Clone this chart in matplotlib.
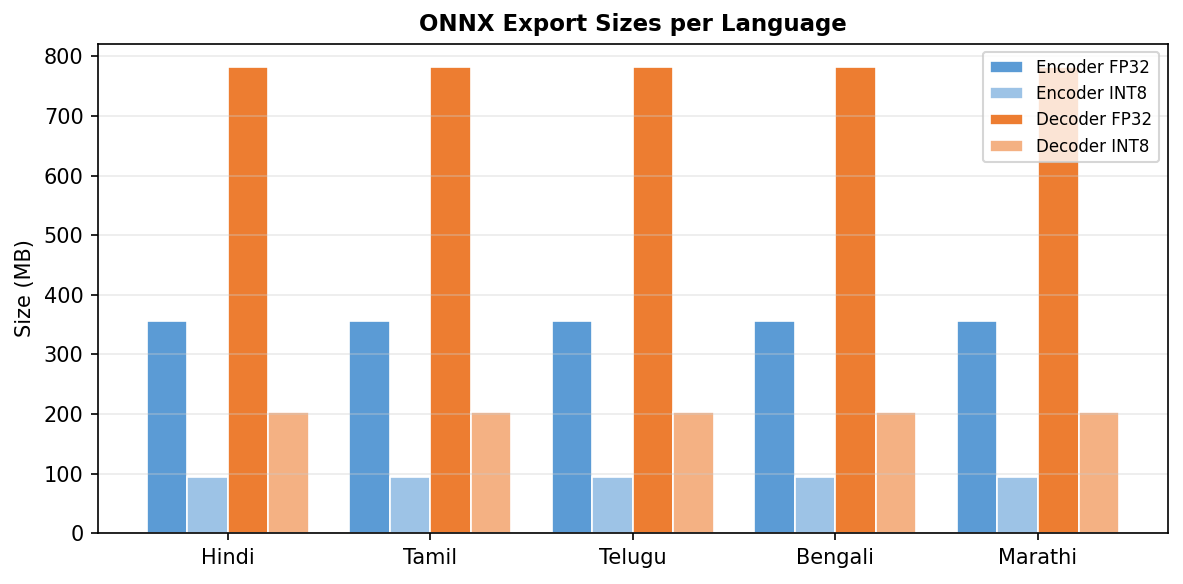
import numpy as np
import matplotlib
matplotlib.use("Agg")
import matplotlib.pyplot as plt

languages = ["Hindi", "Tamil", "Telugu", "Bengali", "Marathi"]
encoder_fp32 = [356, 356, 356, 356, 356]
encoder_int8 = [95, 95, 95, 95, 95]
decoder_fp32 = [782, 782, 782, 782, 782]
decoder_int8 = [203, 203, 203, 203, 203]

series = [
    ("Encoder FP32", encoder_fp32, "#5B9BD5"),
    ("Encoder INT8", encoder_int8, "#9DC3E6"),
    ("Decoder FP32", decoder_fp32, "#ED7D31"),
    ("Decoder INT8", decoder_int8, "#F4B183"),
]

x = np.arange(len(languages))
width = 0.2

fig, ax = plt.subplots(figsize=(1183 / 150, 584 / 150), dpi=150)
fig.subplots_adjust(left=0.083, right=0.987, top=0.925, bottom=0.087)

for i, (label, values, color) in enumerate(series):
    ax.bar(x + (i - 1.5) * width, values, width, label=label, color=color,
           edgecolor="white", linewidth=0.8)

ax.set_xticks(x)
ax.set_xticklabels(languages, fontsize=10)
ax.tick_params(axis="y", labelsize=10)
ax.set_ylabel("Size (MB)", fontsize=10)
ax.set_title("ONNX Export Sizes per Language", fontsize=11, fontweight="bold")
ax.grid(axis="y", color="#cccccc", alpha=0.4, linewidth=0.8)
ax.legend(fontsize=8, loc="upper right")

fig.savefig("out.png", dpi=150)
